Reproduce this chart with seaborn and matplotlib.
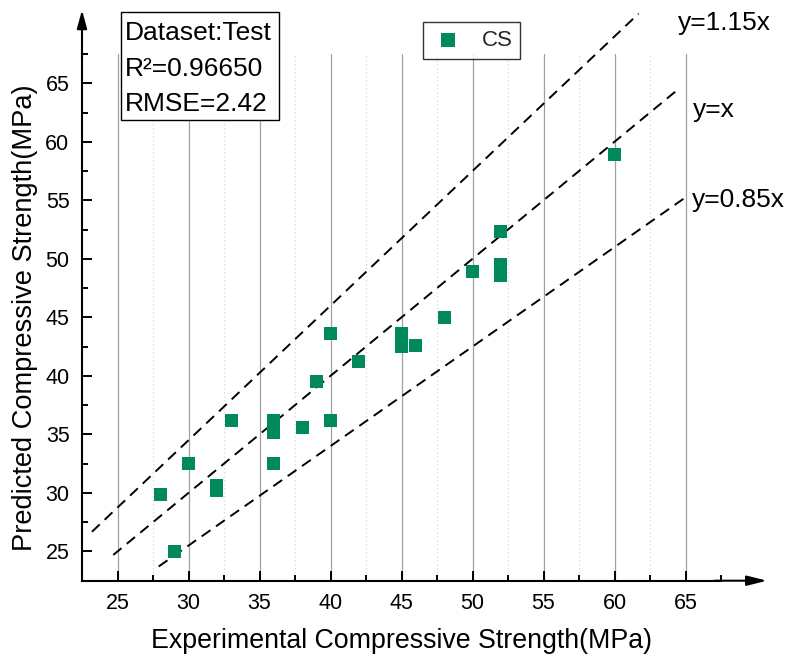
import matplotlib
matplotlib.use("Agg")
import matplotlib.pyplot as plt
from matplotlib.patches import Rectangle
from matplotlib.ticker import MultipleLocator
import seaborn as sns
import pandas as pd
import numpy as np

# ---- data ----
experimental = [28, 29, 30, 32, 32, 33, 36, 36, 36, 38, 39, 40, 40, 42,
                45, 45, 46, 48, 50, 52, 52, 52, 52, 60]
predicted = [29.9, 25.0, 32.5, 30.2, 30.65, 36.2, 36.2, 35.2, 32.55, 35.6, 39.5, 36.2, 43.65, 41.2,
             43.6, 42.5, 42.6, 45.0, 48.9, 52.3, 49.5, 49.0, 48.6, 58.9]
series_name = "CS"
ref_slopes = [1.15, 1.0, 0.85]
ref_labels = ["y=1.15x", "y=x", "y=0.85x"]
ref_x_start = [23.2, 24.7, 27.9]
ref_x_end = [61.7, 64.6, 65.0]
info_lines = ["Dataset:Test", "R\u00b2=0.96650", "RMSE=2.42"]
x_ticks = [25, 30, 35, 40, 45, 50, 55, 60, 65]
y_ticks = [25, 30, 35, 40, 45, 50, 55, 60, 65]
x_label = "Experimental Compressive Strength(MPa)"
y_label = "Predicted Compressive Strength(MPa)"

sns.set_style("white")
plt.rcParams['font.family'] = ['Liberation Sans', 'DejaVu Sans']

W, H = 790, 661
fig = plt.figure(figsize=(W / 100, H / 100), dpi=100)
ax_l, ax_r, ax_t, ax_b = 82, 721, 54, 580.7
ax = fig.add_axes([ax_l / W, 1 - ax_b / H, (ax_r - ax_l) / W, (ax_b - ax_t) / H])

def fx(px):
    return (px - ax_l) / (ax_r - ax_l)

def fy(py):
    return (ax_b - py) / (ax_b - ax_t)

green = "#008A5A"
df = pd.DataFrame({"exp": experimental, "pred": predicted, "series": series_name})

# reference lines
for s, x0, x1 in zip(ref_slopes, ref_x_start, ref_x_end):
    ldf = pd.DataFrame({"x": [x0, x1], "y": [s * x0, s * x1]})
    sns.lineplot(data=ldf, x="x", y="y", ax=ax, color="black", lw=1.4,
                 legend=False, zorder=3)
for line in ax.get_lines():
    line.set_dashes((5.5, 3.5))
    line.set_clip_on(False)

sns.scatterplot(data=df, x="exp", y="pred", ax=ax, marker="s", s=88,
                color=green, edgecolor="none", label=series_name, zorder=4)

ax.set_xlim(22.5, 67.5)
ax.set_ylim(22.5, 67.5)
ax.set_xticks(x_ticks)
ax.set_yticks(y_ticks)
ax.xaxis.set_minor_locator(MultipleLocator(2.5))
ax.yaxis.set_minor_locator(MultipleLocator(2.5))
ax.tick_params(axis="both", which="major", direction="in", length=7, width=1.4,
               labelsize=15.5, color="black", labelcolor="black", pad=9)
ax.tick_params(axis="both", which="minor", direction="in", length=4, width=1.4,
               color="black")
ax.tick_params(axis="x", which="both", bottom=True, top=False)
ax.tick_params(axis="y", which="both", left=True, right=False)

ax.grid(False)
ax.xaxis.grid(True, which="major", color="#a0a0a0", lw=0.9, ls="-")
ax.xaxis.grid(True, which="minor", color="#dcdcdc", lw=0.9, ls=(0, (1.2, 2.0)))
ax.set_axisbelow(True)

for sp in ["top", "right"]:
    ax.spines[sp].set_visible(False)
for sp in ["left", "bottom"]:
    ax.spines[sp].set_color("black")
    ax.spines[sp].set_linewidth(1.5)

# arrows on axes
ax.annotate("", xy=(0, fy(10)), xytext=(0, 0.99), xycoords="axes fraction",
            arrowprops=dict(arrowstyle="-|>,head_length=1.1,head_width=0.3",
                            color="black", lw=1.5, shrinkA=0, shrinkB=0,
                            mutation_scale=10))
ax.annotate("", xy=(fx(767), 0), xytext=(0.99, 0), xycoords="axes fraction",
            arrowprops=dict(arrowstyle="-|>,head_length=1.2,head_width=0.3",
                            color="black", lw=1.5, shrinkA=0, shrinkB=0,
                            mutation_scale=10))

ax.set_xlabel(x_label, fontsize=19.3, labelpad=10, color="black")
ax.set_ylabel(y_label, fontsize=19.6, labelpad=5, color="black")

# reference line labels
label_pos = [(678, 23), (693, 110), (692, 200)]
for txt, (px, py) in zip(ref_labels, label_pos):
    ax.text(fx(px), fy(py), txt, transform=ax.transAxes, fontsize=19,
            ha="left", va="center", color="black")

# info box
ax.add_patch(Rectangle((fx(120.7), fy(120)), fx(279) - fx(120.7), fy(11.7) - fy(120),
                       transform=ax.transAxes, fill=True, facecolor="white",
                       edgecolor="black", lw=1.0, clip_on=False, zorder=5))
for txt, py in zip(info_lines, [40, 76, 111]):
    ax.text(fx(125), fy(py), txt, transform=ax.transAxes, fontsize=19,
            ha="left", va="baseline", color="black", zorder=6)

# legend
leg = ax.legend(loc="upper center", bbox_to_anchor=(fx(471.5), fy(22)),
                fontsize=16, frameon=True, fancybox=False, edgecolor="black",
                borderpad=0.35, handlelength=1.6, handletextpad=0.7,
                borderaxespad=0, markerscale=1.1)
leg.get_frame().set_linewidth(1.0)

fig.savefig("out.png", dpi=100)
